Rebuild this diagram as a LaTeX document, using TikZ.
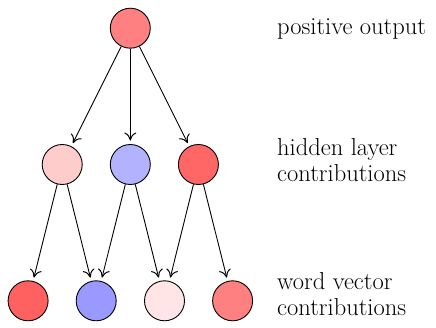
\documentclass[tikz,border=0pt]{standalone}
\usetikzlibrary{arrows.meta}
\begin{document}
\begin{tikzpicture}[x=1pt,y=1pt,
  unit/.style={circle,draw=black,line width=0.9pt,minimum size=40pt,inner sep=0pt},
  conn/.style={line width=0.9pt,-{To[length=8pt,width=12pt,line width=1pt]},shorten >=3.5pt},
  lab/.style={anchor=base west,align=left,inner sep=0pt,font=\fontsize{24.5}{26}\selectfont}]
\useasboundingbox (0,0) rectangle (436,-328);
\node[unit,fill=red!50] (o) at (130.3,-28.2) {};
\node[unit,fill=red!20] (h1) at (62.2,-164.5) {};
\node[unit,fill=blue!30] (h2) at (130.3,-164.5) {};
\node[unit,fill=red!60] (h3) at (198.4,-164.5) {};
\node[unit,fill=red!62] (w1) at (28.1,-300.8) {};
\node[unit,fill=blue!40] (w2) at (96.2,-300.8) {};
\node[unit,fill=red!10] (w3) at (164.5,-300.8) {};
\node[unit,fill=red!50] (w4) at (232.6,-300.8) {};
\draw[conn] (o) -- (h1);
\draw[conn] (o) -- (h2);
\draw[conn] (o) -- (h3);
\draw[conn] (h1) -- (w1);
\draw[conn] (h1) -- (w2);
\draw[conn] (h2) -- (w2);
\draw[conn] (h2) -- (w3);
\draw[conn] (h3) -- (w3);
\draw[conn] (h3) -- (w4);
\node[lab] (l1) at (277,-35) {positive output};
\node[lab] (l2) at (277,-181.7) {hidden layer\\contributions};
\node[lab] (l3) at (277,-315.7) {word vector\\contributions};
\end{tikzpicture}
\end{document}
